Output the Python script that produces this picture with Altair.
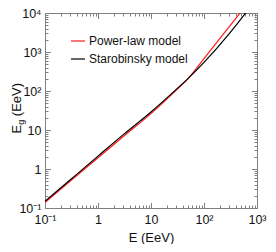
import altair as alt
import pandas as pd

# ---- data ----
series = ["Power-law model", "Starobinsky model"]
colors = ["#ff1a1a", "#000000"]

E_pow = [0.1, 0.3, 1, 3, 10, 30, 51, 100, 300, 486, 560]
Eg_pow = [0.138, 0.49, 1.95, 6.8, 26.3, 105, 214, 676, 4470, 10200, 13200]

E_star = [0.1, 0.3, 1, 3, 10, 30, 51, 100, 300, 616, 700]
Eg_star = [0.148, 0.53, 2.14, 7.6, 29, 110, 214, 540, 2950, 10200, 12900]

x_major = [0.1, 1, 10, 100, 1000]
y_major = [0.1, 1, 10, 100, 1000, 10000]
x_decades = [0.1, 1, 10, 100]
y_decades = [0.1, 1, 10, 100, 1000]
minor_mult = [2, 3, 4, 5, 6, 7, 8, 9]
x_minor = [d * m for d in x_decades for m in minor_mult]
y_minor = [d * m for d in y_decades for m in minor_mult]

df = pd.concat([
    pd.DataFrame({"E": E_pow, "Eg": Eg_pow, "series": series[0]}),
    pd.DataFrame({"E": E_star, "Eg": Eg_star, "series": series[1]}),
], ignore_index=True)

FONT = "Liberation Sans"
GRAY = "#808080"

xs = alt.Scale(type="log", domain=[0.1, 1000], nice=False)
ys = alt.Scale(type="log", domain=[0.1, 10000], nice=False)

lab = ("datum.value < 0.5 ? '10\u207b\u00b9' : datum.value < 5 ? '1' : "
       "datum.value < 50 ? '10' : datum.value < 500 ? '10\u00b2' : "
       "datum.value < 5000 ? '10\u00b3' : '10\u2074'")

lines = alt.Chart(df).mark_line(clip=True, strokeWidth=1.2, interpolate="monotone").encode(
    x=alt.X("E:Q", scale=xs, axis=alt.Axis(
        values=x_major, labelExpr=lab, ticks=False, domain=False, grid=False,
        labelFlush=False, labelOverlap=False,
        title="E (EeV)", labelPadding=5, titlePadding=6, labelFontSize=12.5,
        titleFontSize=13, titleFontWeight="normal")),
    y=alt.Y("Eg:Q", scale=ys, axis=alt.Axis(
        values=y_major, labelExpr=lab, ticks=False, domain=False, grid=False,
        labelFlush=False, labelOverlap=False,
        title=None, labelPadding=4, labelFontSize=12.5)),
    color=alt.Color("series:N", scale=alt.Scale(domain=series, range=colors),
                    legend=alt.Legend(orient="none", legendX=25, legendY=20, title=None,
                                      symbolType="stroke", symbolSize=196,
                                      symbolStrokeWidth=1.2, labelFontSize=12,
                                      labelFont=FONT, rowPadding=4, padding=0,
                                      labelOffset=3, labelColor="#111")),
)


def tick_layer(xorient, yorient, xvals, yvals, size):
    return alt.Chart(df).mark_line(opacity=0, clip=True).encode(
        x=alt.X("E:Q", scale=xs, axis=alt.Axis(
            orient=xorient, values=xvals, labels=False, domain=False, grid=False,
            title=None, tickSize=size, offset=-size, tickColor=GRAY, tickWidth=1)),
        y=alt.Y("Eg:Q", scale=ys, axis=alt.Axis(
            orient=yorient, values=yvals, labels=False, domain=False, grid=False,
            title=None, tickSize=size, offset=-size, tickColor=GRAY, tickWidth=1)),
    )


t1 = tick_layer("bottom", "left", x_major, y_major, 5.5)
t2 = tick_layer("bottom", "left", x_minor, y_minor, 3)
t3 = tick_layer("top", "right", x_major, y_major, 5.5)
t4 = tick_layer("top", "right", x_minor, y_minor, 3)

one = pd.DataFrame({"a": [0]})
yt_E = alt.Chart(one).mark_text(angle=270, align="left", baseline="alphabetic",
                                fontSize=13, font=FONT, color="#111").encode(
    x=alt.value(-24.5), y=alt.value(120.5), text=alt.value("E"))
yt_g = alt.Chart(one).mark_text(angle=270, align="left", baseline="alphabetic",
                                fontSize=9, font=FONT, color="#111").encode(
    x=alt.value(-21.5), y=alt.value(111.8), text=alt.value("g"))
yt_rest = alt.Chart(one).mark_text(angle=270, align="left", baseline="alphabetic",
                                   fontSize=13, font=FONT, color="#111").encode(
    x=alt.value(-24.5), y=alt.value(103.2), text=alt.value("(EeV)"))

chart = alt.layer(lines, t1, t2, t3, t4, yt_E, yt_g, yt_rest).resolve_axis(
    x="independent", y="independent"
).properties(
    width=212, height=195,
    autosize=alt.AutoSizeParams(type="none"),
    padding={"left": 37, "top": 5, "right": 11, "bottom": 36},
    background="white",
).configure_view(
    stroke=GRAY, strokeWidth=1
).configure_axis(
    labelFont=FONT, titleFont=FONT, labelColor="#111", titleColor="#111"
)

chart.save("out.html", embed_options={"renderer": "svg", "actions": False})
